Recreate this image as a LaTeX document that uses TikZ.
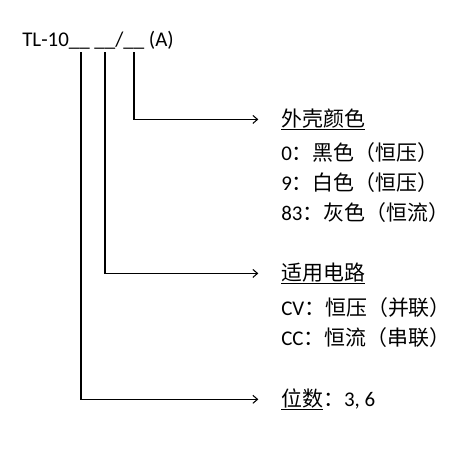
\documentclass[tikz,border=0pt]{standalone}
\usepackage{fontspec}
\setmainfont{Carlito}
\newfontfamily\cjk{Noto Sans CJK SC}
\usetikzlibrary{arrows.meta}

\begin{document}
\begin{tikzpicture}[x=0.75pt,y=-0.75pt]
\tikzstyle{lbl}=[anchor=base west, inner sep=0pt, font=\fontsize{15.7}{18}\selectfont]
\tikzstyle{lead}=[draw, line width=0.8pt, shorten >=17pt, -{Straight Barb[length=3.5pt,width=6pt]}]
\useasboundingbox (0,0) rectangle (472,450);
\node[lbl] (code) at (22,46) {TL-10\_\_ \_\_/\_\_ (A)};
\coordinate (s1) at (81,52);
\coordinate (s2) at (105,52);
\coordinate (s3) at (134,52);
% colour of the shell
\node[lbl] (shell) at (281,126) {\cjk\underline{外壳颜色}};
\foreach \name/\y/\txt in {c0/160/{0\cjk：黑色（恒压）},c9/190/{9\cjk：白色（恒压）},c83/220/{83\cjk：灰色（恒流）}}
    \node[lbl] (\name) at (281,\y) {\txt};
% circuit
\node[lbl] (circ) at (281,280) {\cjk\underline{适用电路}};
\foreach \name/\y/\txt in {cv/315/{CV\cjk：恒压（并联）},cc/345/{CC\cjk：恒流（串联）}}
    \node[lbl] (\name) at (281,\y) {\txt};
% digits
\node[lbl] (digits) at (281,406) {{\cjk\underline{位数}：}3, 6};
\path[lead] (s3) |- (shell.west);
\path[lead] (s2) |- (circ.west);
\path[lead] (s1) |- (digits.west);
\end{tikzpicture}
\end{document}
